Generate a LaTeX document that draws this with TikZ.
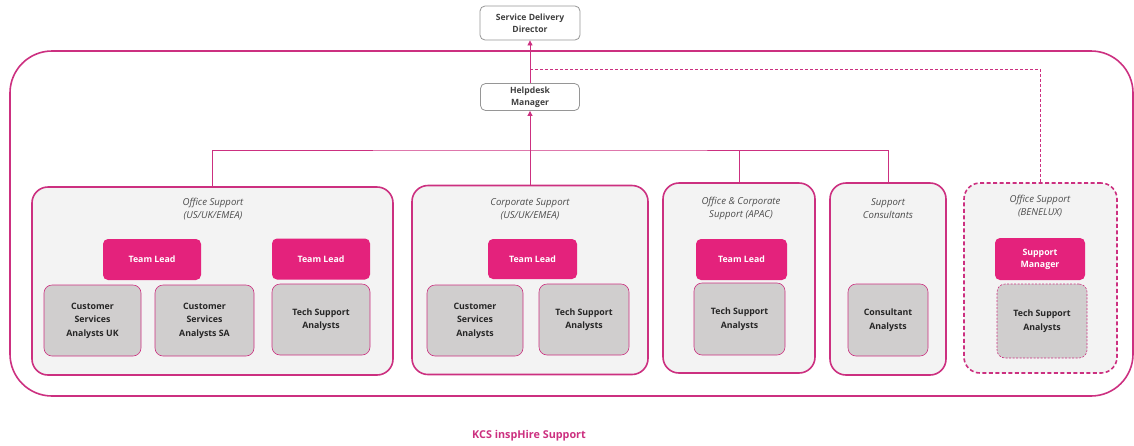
\documentclass[tikz,border=0pt]{standalone}
\usepackage{fontspec}
\setmainfont{Open Sans}
\usetikzlibrary{arrows.meta, positioning}

\begin{document}
\begin{tikzpicture}[x=1pt, y=-1pt, >={Triangle[width=5pt,length=5pt]},
    role/.style={draw=roleedge, fill=white, rounded corners=5pt, line width=0.8pt,
        align=center, font=\fontsize{8.6}{12}\selectfont\bfseries, text=black!75,
        inner sep=0pt},
    group/.style={draw=kcspink, fill=groupfill, rounded corners=16pt, line width=1.6pt,
        inner sep=0pt},
    grouptitle/.style={align=center, font=\fontsize{9.6}{13}\selectfont\itshape, text=black!70},
    lead/.style={fill=leadpink, rounded corners=5pt, align=center, text=white,
        font=\fontsize{8.8}{12}\selectfont\bfseries, inner sep=0pt},
    analyst/.style={draw=kcspink, fill=analystgray, rounded corners=8pt, line width=0.6pt,
        align=center, font=\fontsize{8.8}{13.5}\selectfont\bfseries, text=black!85, inner sep=0pt},
    link/.style={draw=kcspink, line width=0.8pt}]

    % Define colors
    \definecolor{kcspink}{RGB}{204, 48, 128}
    \definecolor{leadpink}{RGB}{228, 34, 124}
    \definecolor{groupfill}{RGB}{243, 243, 243}
    \definecolor{analystgray}{RGB}{208, 206, 206}
    \definecolor{roleedge}{RGB}{150, 150, 150}

    \useasboundingbox (0,0) rectangle (1134,445);

    % Outer frame
    \draw[kcspink, line width=1.6pt, rounded corners=42pt] (10,51) rectangle (1133,396);

    % Management
    \node[role, minimum width=100pt, minimum height=34pt] (dir) at (530,23) {Service Delivery\\Director};
    \node[role, minimum width=99pt, minimum height=27pt] (help) at (530,97) {Helpdesk\\Manager};

    % Groups
    \node[group, minimum width=361pt, minimum height=188pt] (grpOffice) at (212.5,281) {};
    \node[group, minimum width=236pt, minimum height=189pt] (grpCorp) at (530,280) {};
    \node[group, minimum width=152pt, minimum height=190pt] (grpApac) at (739,278) {};
    \node[group, minimum width=116pt, minimum height=192pt] (grpCons) at (888,279) {};
    \node[group, dashed, dash pattern=on 4pt off 2.5pt, minimum width=153pt, minimum height=190pt] (grpBen) at (1040.5,278) {};

    \node[grouptitle] (ttlOffice) at (213,209) {Office Support\\(US/UK/EMEA)};
    \node[grouptitle] (ttlCorp) at (530,209) {Corporate Support\\(US/UK/EMEA)};
    \node[grouptitle] (ttlApac) at (741,208) {Office \& Corporate\\Support (APAC)};
    \node[grouptitle] (ttlCons) at (888,209) {Support\\Consultants};
    \node[grouptitle] (ttlBen) at (1040,206) {Office Support\\(BENELUX)};

    % Team leads
    \node[lead, minimum width=98pt, minimum height=41pt] (leadA) at (152,259.5) {Team Lead};
    \node[lead, minimum width=98pt, minimum height=41pt] (leadB) at (321,259) {Team Lead};
    \node[lead, minimum width=89pt, minimum height=40pt] (leadC) at (532.5,259) {Team Lead};
    \node[lead, minimum width=91pt, minimum height=41pt] (leadD) at (741.5,259.5) {Team Lead};
    \node[lead, minimum width=90pt, minimum height=42pt] (mgrF) at (1040,259) {Support\\Manager};

    % Analysts
    \node[analyst, minimum width=97pt, minimum height=71pt] (csaUK) at (92.5,320.5) {Customer\\Services\\Analysts UK};
    \node[analyst, minimum width=99pt, minimum height=71pt] (csaSA) at (204.5,320.5) {Customer\\Services\\Analysts SA};
    \node[analyst, minimum width=98pt, minimum height=71pt] (techA) at (321,319.5) {Tech Support\\Analysts};
    \node[analyst, minimum width=96pt, minimum height=71pt] (csaC) at (475,320.5) {Customer\\Services\\Analysts};
    \node[analyst, minimum width=90pt, minimum height=71pt] (techC) at (584,319.5) {Tech Support\\Analysts};
    \node[analyst, minimum width=91pt, minimum height=72pt] (techD) at (739.5,319) {Tech Support\\Analysts};
    \node[analyst, minimum width=80pt, minimum height=72pt] (consE) at (888,320) {Consultant\\Analysts};
    \node[analyst, dashed, dash pattern=on 2pt off 1.5pt, minimum width=90pt, minimum height=74pt] (techF) at (1042,321) {Tech Support\\Analysts};

    % Connectors
    \coordinate (bus) at (530,150);
    \coordinate (dashStart) at (530,69);
    \draw[link, ->] (help.north) -- (dir.south);
    \draw[link, ->] (grpCorp.north) -- (help.south);
    \draw[link] (grpOffice.north) |- (bus) -| (grpCons.north);
    \draw[link] (grpApac.north) -- (grpApac.north |- bus);
    \draw[link, dashed, dash pattern=on 3pt off 2pt] (dashStart) -| (grpBen.north);

    % Footer
    \node[text=kcspink, font=\fontsize{10.8}{13}\selectfont\bfseries] (footer) at (529,436) {KCS inspHire Support};

\end{tikzpicture}
\end{document}
